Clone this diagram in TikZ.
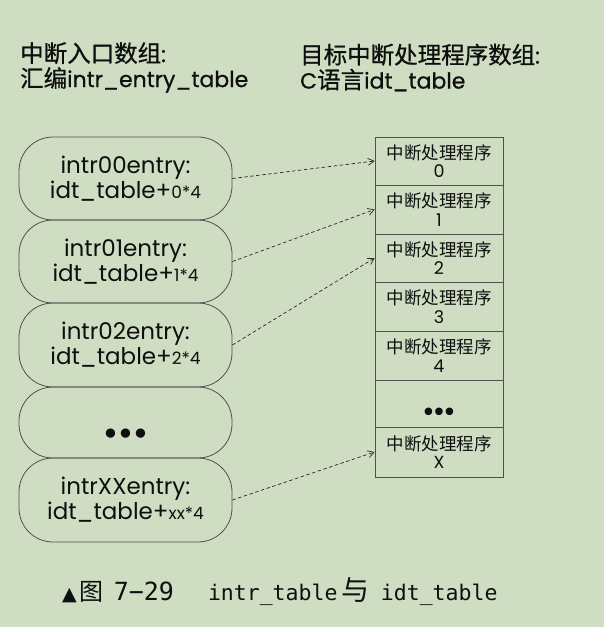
\documentclass[tikz,border=0pt]{standalone}
\usepackage{fontspec}
\setmainfont{Poppins}
\newfontfamily\cjk{Noto Sans CJK SC}
\newfontfamily\headlat[FakeBold=0.7]{Poppins}
\newfontfamily\headcjk[FakeBold=0.7]{Noto Sans CJK SC}
\newfontfamily\monof{DejaVu Sans Mono}
\newfontfamily\dejavu{DejaVu Sans}
\usetikzlibrary{arrows.meta}
\definecolor{bgc}{RGB}{207,222,195}
\definecolor{linec}{RGB}{80,80,80}
\definecolor{txtc}{RGB}{15,15,15}
\definecolor{arrc}{RGB}{40,40,40}
\begin{document}
\begin{tikzpicture}[x=1pt,y=-1pt,
  entry/.style={draw=linec, line width=0.8pt, rounded corners=34pt, minimum width=213pt, inner sep=0pt, align=center, text=txtc, font=\fontsize{23}{25}\selectfont},
  cell/.style={draw=linec, line width=0.8pt, minimum width=128pt, inner sep=0pt, align=center, text=txtc, font=\fontsize{17.5}{18.5}\selectfont},
  head/.style={anchor=west, align=left, inner sep=0pt, text=txtc, font=\headlat\fontsize{22}{25}\selectfont},
  link/.style={draw=arrc, line width=0.7pt, dash pattern=on 3.5pt off 2.5pt, -{Straight Barb[length=6pt,width=7pt]}}
]
\fill[bgc] (0,0) rectangle (604,627);
\useasboundingbox (0,0) rectangle (604,627);

% headings
\node[head] (h1) at (20,67.5) {{\headcjk\fontsize{23.5}{25}\selectfont 中断入口数组}:\\{\headcjk\fontsize{23.5}{25}\selectfont 汇编}intr\_entry\_table};
\node[head] (h2) at (300,67.5) {{\headcjk\fontsize{23.5}{25}\selectfont 目标中断处理程序数组}:\\C{\headcjk\fontsize{23.5}{25}\selectfont 语言}idt\_table};

% left entries
\newcommand{\smallpart}[1]{{\fontsize{17}{17}\selectfont #1}}
\node[entry, minimum height=83pt] (b0) at (125.5,178.5) {intr00entry:\\idt\_table+\smallpart{0*4}};
\node[entry, minimum height=83pt] (b1) at (125.5,261.5) {intr01entry:\\idt\_table+\smallpart{1*4}};
\node[entry, minimum height=84pt] (b2) at (125.5,345) {intr02entry:\\idt\_table+\smallpart{2*4}};
\node[entry, minimum height=71pt] (b3) at (125.5,422.5) {\raisebox{-23pt}[0pt][0pt]{\dejavu\fontsize{32}{32}\selectfont •\hspace{-3.9pt}•\hspace{-3.9pt}•}};
\node[entry, minimum height=84pt] (b4) at (125.5,500) {intrXXentry:\\idt\_table+\smallpart{xx*4}};

% right table
\node[cell, minimum height=48pt] (r0) at (439,161) {{\cjk 中断处理程序}\\0};
\node[cell, minimum height=49pt] (r1) at (439,209.5) {{\cjk 中断处理程序}\\1};
\node[cell, minimum height=48pt] (r2) at (439,258) {{\cjk 中断处理程序}\\2};
\node[cell, minimum height=49pt] (r3) at (439,306.5) {{\cjk 中断处理程序}\\3};
\node[cell, minimum height=49pt] (r4) at (439,355.5) {{\cjk 中断处理程序}\\4};
\node[cell, minimum height=47pt] (r5) at (439,403.5) {\raisebox{-17.5pt}[0pt][0pt]{\dejavu\fontsize{26}{26}\selectfont •\hspace{-4.8pt}•\hspace{-4.8pt}•}};
\node[cell, minimum height=50pt] (r6) at (439,452) {{\cjk 中断处理程序}\\X};

% links
\draw[link] (b0.east) -- (r0.west);
\draw[link] (b1.east) -- (r1.west);
\draw[link] (b2.east) -- (r2.west);
\draw[link] (b4.east) -- (r6.west);

% caption
\node[anchor=base west, inner sep=0pt, text=txtc] (cap) at (62,600) {{\dejavu\fontsize{19}{19}\selectfont ▲}\hspace{3pt}{\cjk\fontsize{24}{24}\selectfont 图}\hspace{10pt}{\monof\fontsize{25}{25}\selectfont 7−29}\hspace{34pt}{\monof\fontsize{21.5}{21.5}\selectfont intr\_table}\hspace{4.5pt}{\cjk\fontsize{28}{28}\selectfont 与}\hspace{11pt}{\monof\fontsize{21.5}{21.5}\selectfont idt\_table}};
\end{tikzpicture}
\end{document}
